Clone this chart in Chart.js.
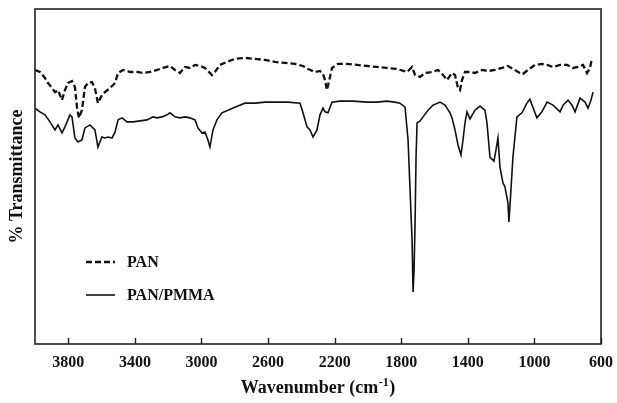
<!DOCTYPE html>
<html>
<head>
<meta charset="utf-8">
<script src="https://cdn.jsdelivr.net/npm/chart.js"></script>
<style>
  html, body { margin: 0; padding: 0; background: #fff; }
  #wrap { width: 617px; height: 403px; }
</style>
</head>
<body>
<div id="wrap"><canvas id="c" width="617" height="403"></canvas></div>
<script>
// ---- Data ----
const seriesNames = ['PAN', 'PAN/PMMA'];

const panWavenumber = [4000,3970,3940,3922,3898,3880,3862,3838,3820,3802,3778,3760,3748,3736,3718,3700,3682,3658,3640,3622,3598,3580,3549,3519,3501,3471,3429,3387,3351,3309,3267,3231,3189,3159,3129,3099,3069,3039,3009,2979,2937,2919,2889,2847,2799,2739,2678,2618,2558,2498,2438,2390,2360,2318,2288,2270,2258,2246,2228,2216,2180,2126,2066,2006,1946,1886,1826,1765,1735,1717,1687,1657,1615,1579,1549,1525,1495,1477,1459,1447,1435,1417,1387,1357,1315,1279,1237,1195,1159,1129,1087,1069,1039,997,955,924,888,846,804,768,738,708,684,666,654];
const panTransmittance = [81.8,81.2,79.4,77.9,76.4,75.2,75.8,72.8,75.8,77.9,78.5,76.7,70.7,67.5,69.8,76.7,77.9,78.2,76.4,71.9,74.3,75.2,76.4,77.9,80.9,81.8,81.2,81.2,80.9,81.2,81.8,82.4,83.0,81.8,80.9,82.7,82.4,83.3,83.0,82.4,80.3,81.2,83.3,84.2,85.1,85.4,85.1,84.8,84.2,83.9,83.6,83.0,82.1,81.2,81.5,80.6,78.8,75.8,79.7,82.4,83.6,83.6,83.3,83.0,82.7,82.4,82.1,81.2,82.7,80.3,79.7,80.9,81.2,81.8,80.3,78.8,80.9,80.3,76.4,75.8,78.8,81.2,81.2,80.9,81.8,81.5,81.8,82.4,83.0,82.1,80.9,80.6,81.8,83.3,83.6,83.3,82.7,83.3,83.3,82.4,82.7,83.3,80.9,82.4,85.4];

const pmmaWavenumber = [4000,3970,3940,3910,3880,3862,3838,3820,3790,3778,3760,3742,3718,3700,3670,3640,3622,3598,3580,3562,3537,3519,3501,3477,3447,3411,3369,3327,3291,3267,3237,3207,3189,3159,3129,3099,3069,3039,3021,2997,2979,2961,2949,2931,2907,2877,2841,2799,2739,2678,2618,2558,2480,2408,2390,2366,2348,2330,2306,2288,2270,2258,2240,2216,2168,2090,2006,1946,1886,1838,1808,1777,1759,1747,1735,1729,1723,1717,1711,1705,1687,1669,1639,1609,1567,1537,1507,1495,1477,1459,1441,1429,1417,1405,1387,1357,1327,1297,1285,1267,1243,1231,1219,1207,1189,1177,1159,1153,1141,1129,1105,1075,1045,1027,1009,985,955,924,888,846,828,798,774,756,726,696,678,660,648];
const pmmaTransmittance = [70.4,69.3,68.4,66.3,63.9,65.4,63.0,64.8,68.4,67.8,61.5,60.3,60.9,64.5,65.4,63.9,58.8,61.8,61.5,61.8,61.5,63.3,66.9,67.5,66.3,66.3,66.6,66.9,67.8,67.5,67.8,68.4,69.0,67.8,67.5,67.8,67.5,66.9,64.5,63.0,63.3,60.9,58.8,63.9,66.9,69.0,69.8,70.7,71.9,71.9,72.2,72.2,72.2,71.9,69.0,64.8,63.9,61.8,63.9,68.4,70.4,69.3,69.0,72.2,72.5,72.5,72.2,72.2,72.5,72.2,71.9,70.7,60.9,46.0,31.0,15.5,22.1,36.1,55.8,66.0,66.6,67.8,69.8,71.3,72.2,71.3,69.0,67.5,63.9,59.4,56.4,60.9,66.0,69.3,67.2,69.8,71.0,69.8,66.0,55.8,54.6,57.9,61.5,52.8,48.1,46.9,42.1,36.4,46.0,55.8,67.8,69.0,71.9,73.1,70.7,67.5,69.3,72.2,71.3,69.3,71.3,72.8,71.3,69.3,73.4,72.2,70.4,72.8,75.2];

const xTickValues = [3800, 3400, 3000, 2600, 2200, 1800, 1400, 1000, 600];
const xTitleMain = 'Wavenumber (cm';
const xTitleSup = '-1';
const xTitleEnd = ')';
const yTitle = '% Transmittance';

// ---- helpers ----
const toPoints = (xs, ys) => xs.map((x, i) => ({ x: x, y: ys[i] }));
const SERIF = '"Liberation Serif", "Times New Roman", serif';
const INK = '#111';

const framePlugin = {
  id: 'frame',
  afterDraw(chart) {
    const { ctx, chartArea: a, scales } = chart;
    ctx.save();
    // box
    ctx.strokeStyle = '#222';
    ctx.lineWidth = 1.6;
    ctx.strokeRect(a.left, a.top, a.right - a.left, a.bottom - a.top);
    // inward tick marks on bottom axis
    const xs = scales.x;
    ctx.lineWidth = 1.4;
    ctx.beginPath();
    xs.ticks.forEach(t => {
      const px = Math.round(xs.getPixelForValue(t.value)) + 0.5;
      ctx.moveTo(px, a.bottom);
      ctx.lineTo(px, a.bottom - 6);
    });
    ctx.stroke();

    // x-axis title with superscript
    ctx.fillStyle = INK;
    ctx.textBaseline = 'alphabetic';
    const big = 'bold 18px ' + SERIF;
    const small = 'bold 12px ' + SERIF;
    ctx.font = big;
    const w1 = ctx.measureText(xTitleMain).width;
    const w3 = ctx.measureText(xTitleEnd).width;
    ctx.font = small;
    const w2 = ctx.measureText(xTitleSup).width;
    const total = w1 + w2 + w3 + 1;
    const cx = (a.left + a.right) / 2;
    let x0 = cx - total / 2;
    const base = 393;
    ctx.font = big;
    ctx.textAlign = 'left';
    ctx.fillText(xTitleMain, x0, base);
    ctx.font = small;
    ctx.fillText(xTitleSup, x0 + w1 + 0.5, base - 7);
    ctx.font = big;
    ctx.fillText(xTitleEnd, x0 + w1 + w2 + 1, base);

    // legend inside plot
    const items = [
      { ds: chart.data.datasets[0], y: 262 },
      { ds: chart.data.datasets[1], y: 295 }
    ];
    items.forEach(it => {
      ctx.save();
      ctx.strokeStyle = it.ds.borderColor;
      ctx.lineWidth = it.ds.borderWidth;
      ctx.setLineDash(it.ds.borderDash || []);
      ctx.beginPath();
      ctx.moveTo(86, it.y);
      ctx.lineTo(115, it.y);
      ctx.stroke();
      ctx.restore();
      ctx.fillStyle = INK;
      ctx.font = 'bold 16px ' + SERIF;
      ctx.textBaseline = 'middle';
      ctx.textAlign = 'left';
      ctx.fillText(it.ds.label, 127, it.y + 1);
    });
    ctx.restore();
  }
};

new Chart(document.getElementById('c'), {
  type: 'line',
  data: {
    datasets: [
      {
        label: seriesNames[0],
        data: toPoints(panWavenumber, panTransmittance),
        borderColor: '#111',
        borderWidth: 2.3,
        borderDash: [6, 3],
        pointRadius: 0,
        tension: 0,
        fill: false
      },
      {
        label: seriesNames[1],
        data: toPoints(pmmaWavenumber, pmmaTransmittance),
        borderColor: '#111',
        borderWidth: 1.6,
        pointRadius: 0,
        tension: 0,
        fill: false
      }
    ]
  },
  options: {
    responsive: false,
    animation: false,
    devicePixelRatio: 1,
    layout: { padding: { top: 9, right: 16, left: 0, bottom: 0 } },
    plugins: {
      legend: { display: false },
      tooltip: { enabled: false }
    },
    scales: {
      x: {
        type: 'linear',
        reverse: true,
        min: 600,
        max: 4000,
        grid: { display: false, drawTicks: false, tickLength: 0 },
        border: { display: false },
        afterBuildTicks: s => { s.ticks = xTickValues.map(v => ({ value: v })); },
        afterFit: s => { s.height = 59; s.paddingLeft = 0; s.paddingRight = 0; },
        ticks: {
          autoSkip: false,
          maxRotation: 0,
          padding: 9,
          color: INK,
          font: { family: SERIF, size: 16, weight: 'bold' },
          callback: v => String(v)
        }
      },
      y: {
        min: 0,
        max: 100,
        grid: { display: false, drawTicks: false },
        border: { display: false },
        ticks: { display: false },
        afterFit: s => { s.width = 35; s.paddingTop = 0; s.paddingBottom = 0; },
        title: {
          display: true,
          text: yTitle,
          color: INK,
          padding: { top: 7, bottom: 0 },
          font: { family: SERIF, size: 18, weight: 'bold' }
        }
      }
    }
  },
  plugins: [framePlugin]
});
</script>
</body>
</html>
